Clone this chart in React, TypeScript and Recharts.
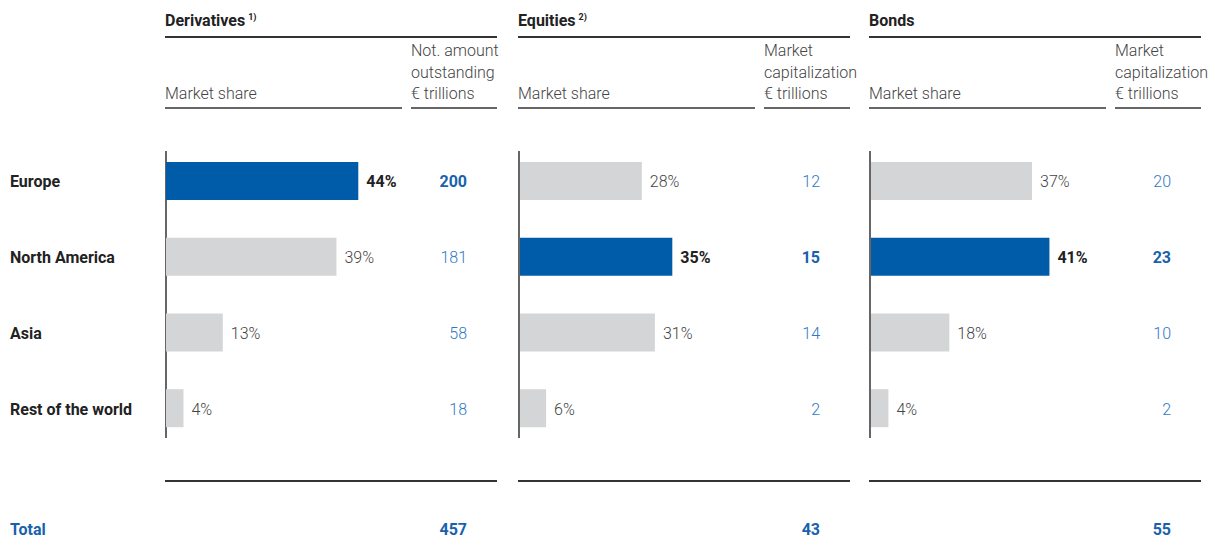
import { BarChart, Bar, XAxis, YAxis, Cell, LabelList } from 'recharts'

const regions = ['Europe', 'North America', 'Asia', 'Rest of the world']

const derivativesShare = [44, 39, 13, 4]
const derivativesAmount = [200, 181, 58, 18]
const equitiesShare = [28, 35, 31, 6]
const equitiesAmount = [12, 15, 14, 2]
const bondsShare = [37, 41, 18, 4]
const bondsAmount = [20, 23, 10, 2]

const totals = [457, 43, 55]
const panelTitles = ['Derivatives', 'Equities', 'Bonds']
const footnotes = ['1)', '2)', '']
const amountHeaders = [
  ['Not. amount', 'outstanding', '€ trillions'],
  ['Market', 'capitalization', '€ trillions'],
  ['Market', 'capitalization', '€ trillions'],
]
const highlighted = ['Europe', 'North America', 'North America']

const FONT = 'Roboto, "Liberation Sans", Arial, sans-serif'
const BLUE = '#005ca9'
const GREY = '#d4d5d7'
const NUM_BLUE = '#2f78c4'
const NUM_BLUE_BOLD = '#1862ad'
const FS = 16

const panelX = [165, 518, 869]
const PANEL_W = 332
const SHARE_W = 237

type Row = { region: string; share: number; amount: number }

const build = (share: number[], amount: number[]): Row[] =>
  regions.map((region, i) => ({ region, share: share[i], amount: amount[i] }))

const panels = [
  build(derivativesShare, derivativesAmount),
  build(equitiesShare, equitiesAmount),
  build(bondsShare, bondsAmount),
]

function Panel({ idx }: { idx: number }) {
  const data = panels[idx]
  const hi = highlighted[idx]
  const first = idx === 0
  const leftW = first ? 166 : 0
  const chartLeft = first ? 0 : panelX[idx] + 1
  const width = first ? panelX[0] + PANEL_W : PANEL_W - 1

  const shareLabel = (props: any) => {
    const { x, y, width: w, height: h, index } = props
    const bold = data[index].region === hi
    return (
      <text
        x={x + w + 8}
        y={y + h / 2 + 1}
        dominantBaseline="central"
        fontFamily={FONT}
        fontSize={FS}
        fontWeight={bold ? 700 : 300}
        fill={bold ? '#222' : '#444'}
      >
        {data[index].share}%
      </text>
    )
  }

  const amountTick = (props: any) => {
    const { x, y, payload } = props
    const row = data.find((d) => d.region === payload.value)!
    const bold = row.region === hi
    return (
      <text
        x={x + 65}
        y={y + 1}
        textAnchor="end"
        dominantBaseline="central"
        fontFamily={FONT}
        fontSize={FS}
        fontWeight={bold ? 700 : 300}
        fill={bold ? NUM_BLUE_BOLD : NUM_BLUE}
      >
        {row.amount}
      </text>
    )
  }

  const regionTick = (props: any) => {
    const { y, payload } = props
    return (
      <text
        x={10}
        y={y + 1}
        dominantBaseline="central"
        fontFamily={FONT}
        fontSize={FS}
        fontWeight={700}
        fill="#222"
      >
        {payload.value}
      </text>
    )
  }

  return (
    <div style={{ position: 'absolute', left: chartLeft, top: 143 }}>
      <BarChart
        width={width}
        height={303}
        data={data}
        layout="vertical"
        margin={{ top: 0, right: 0, bottom: 0, left: 0 }}
        barCategoryGap="25%"
      >
        <XAxis type="number" hide domain={[0, 54]} />
        <YAxis
          yAxisId="left"
          type="category"
          dataKey="region"
          width={leftW || 1}
          axisLine={false}
          tickLine={false}
          tick={first ? regionTick : false}
        />
        <YAxis
          yAxisId="right"
          orientation="right"
          type="category"
          dataKey="region"
          width={PANEL_W - SHARE_W}
          axisLine={false}
          tickLine={false}
          tickSize={0}
          tickMargin={0}
          tick={amountTick}
        />
        <Bar dataKey="share" yAxisId="left" isAnimationActive={false}>
          {data.map((d) => (
            <Cell key={d.region} fill={d.region === hi ? BLUE : GREY} />
          ))}
          <LabelList dataKey="share" content={shareLabel} />
        </Bar>
      </BarChart>
    </div>
  )
}

function Header({ idx }: { idx: number }) {
  const x = panelX[idx]
  const lightText: React.CSSProperties = {
    position: 'absolute',
    fontFamily: FONT,
    fontSize: FS,
    fontWeight: 300,
    color: '#444',
    lineHeight: '21.5px',
    whiteSpace: 'nowrap',
  }
  return (
    <>
      <div
        style={{
          position: 'absolute',
          left: x,
          top: 11,
          fontFamily: FONT,
          fontSize: 16,
          fontWeight: 700,
          color: '#222',
          lineHeight: '20px',
          height: 20,
          whiteSpace: 'nowrap',
        }}
      >
        {panelTitles[idx]}
        {footnotes[idx] && (
          <span style={{ fontSize: 9, marginLeft: 3, position: 'relative', top: -6 }}>
            {footnotes[idx]}
          </span>
        )}
      </div>
      <div style={{ position: 'absolute', left: x, top: 36, width: PANEL_W, height: 2, background: '#333' }} />
      <div style={{ ...lightText, left: x, top: 83 }}>Market share</div>
      <div style={{ ...lightText, left: x + SHARE_W + 9, top: 40 }}>
        {amountHeaders[idx].map((l) => (
          <div key={l}>{l}</div>
        ))}
      </div>
      <div style={{ position: 'absolute', left: x, top: 107, width: SHARE_W, height: 2, background: '#666' }} />
      <div
        style={{
          position: 'absolute',
          left: x + SHARE_W + 9,
          top: 107,
          width: PANEL_W - SHARE_W - 9,
          height: 2,
          background: '#666',
        }}
      />
      <div style={{ position: 'absolute', left: x, top: 151, width: 2, height: 287, background: '#666' }} />
      <div style={{ position: 'absolute', left: x, top: 480, width: PANEL_W, height: 2, background: '#333' }} />
      <div
        style={{
          position: 'absolute',
          left: x + SHARE_W + 9,
          width: 56,
          top: 520,
          textAlign: 'right',
          fontFamily: FONT,
          fontSize: FS,
          fontWeight: 700,
          color: NUM_BLUE_BOLD,
          lineHeight: '20px',
        }}
      >
        {totals[idx]}
      </div>
    </>
  )
}

export default function App() {
  return (
    <div
      style={{
        position: 'absolute',
        left: 0,
        top: 0,
        width: 1213,
        height: 540,
        background: '#fff',
        overflow: 'hidden',
      }}
    >
      {[0, 1, 2].map((i) => (
        <Header key={`h${i}`} idx={i} />
      ))}
      {[0, 1, 2].map((i) => (
        <Panel key={`p${i}`} idx={i} />
      ))}
      <div
        style={{
          position: 'absolute',
          left: 10,
          top: 520,
          fontFamily: FONT,
          fontSize: FS,
          fontWeight: 700,
          color: NUM_BLUE_BOLD,
          lineHeight: '20px',
        }}
      >
        Total
      </div>
    </div>
  )
}
